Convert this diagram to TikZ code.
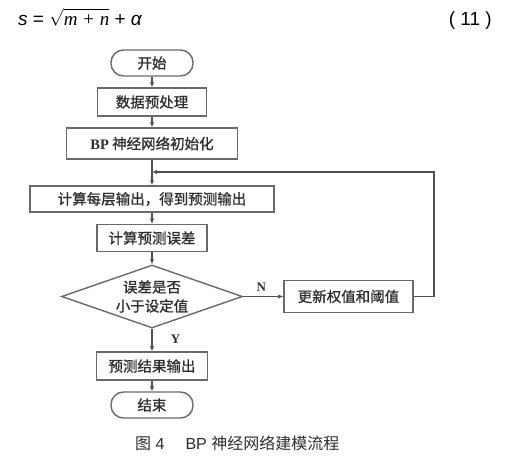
\documentclass[tikz,border=0pt]{standalone}
\usepackage{fontspec}
\setmainfont{Liberation Sans}
\newfontfamily\cjk{Noto Sans CJK SC}
\newfontfamily\cjkb{Noto Sans CJK SC}[FakeBold=0.9]
\newfontfamily\serifx{Liberation Serif}
\usetikzlibrary{shapes.geometric,arrows.meta}
\definecolor{linec}{HTML}{505050}
\definecolor{boxc}{HTML}{6A6A6A}
\definecolor{txtc}{HTML}{2E2E2E}
\begin{document}
\begin{tikzpicture}[x=1pt,y=-1pt,
  base/.style={draw=boxc, line width=1.4pt, inner sep=0pt, text=txtc,
    font=\cjkb\fontsize{14.5}{19}\selectfont, align=center},
  procbox/.style={base, rectangle},
  termbox/.style={base, rectangle, rounded corners=12.5pt},
  decbox/.style={base, diamond, aspect=2.87},
  arr/.style={draw=linec, line width=1.1pt, -{Latex[length=5pt,width=4.5pt]}},
  lbl/.style={text=txtc, font=\serifx\bfseries\fontsize{13}{13}\selectfont}
]
\useasboundingbox[fill=white] (0,0) rectangle (508,461);

% formula
\node[anchor=base west, inner sep=0pt, text=black, font=\fontsize{19}{19}\selectfont] (eq) at (18,25)
  {\itshape s\upshape{} = $\sqrt{\vphantom{\hbox{\serifx b}}\smash{\hbox{\serifx\itshape m + n}}}$ + \itshape α};
\node[anchor=base east, inner sep=0pt, text=black, font=\fontsize{19}{19}\selectfont] (eqn) at (492,25) {( 11 )};

% flow nodes
\node[termbox, minimum width=82pt, minimum height=26pt] (start) at (152,63) {开始};
\node[procbox, minimum width=109pt, minimum height=28pt] (pre) at (152,102) {数据预处理};
\node[procbox, minimum width=171pt, minimum height=31pt] (init) at (152,143.5) {{\serifx\bfseries BP} 神经网络初始化};
\node[procbox, minimum width=244pt, minimum height=26pt] (calc) at (152,199) {计算每层输出，得到预测输出};
\node[procbox, minimum width=110pt, minimum height=27pt] (err) at (152,238) {计算预测误差};
\node[decbox, minimum width=181pt, minimum height=63pt] (dec) at (152,296.5) {误差是否\\小于设定值};
\node[procbox, minimum width=129pt, minimum height=32pt] (upd) at (348.5,296.5) {更新权值和阈值};
\node[procbox, minimum width=111pt, minimum height=28pt] (out) at (152,366) {预测结果输出};
\node[termbox, minimum width=82pt, minimum height=26pt] (stop) at (152,405) {结束};

\coordinate (j) at (152,172);
\coordinate (cr) at (434,172);

% connectors
\draw[arr] (start) -- (pre);
\draw[arr] (pre) -- (init);
\draw[arr] (init) -- (calc);
\draw[arr] (calc) -- (err);
\draw[arr] (err) -- (dec);
\draw[arr] (dec) -- node[lbl, pos=0.45, right=15pt] (ylab) {Y} (out);
\draw[arr] (out) -- (stop);
\draw[arr] (dec.east) -- node[lbl, above=1pt, pos=0.45] (nlab) {N} (upd.west);
\draw[arr] (upd.east) -| (cr) -- (j);

% caption
\node[anchor=base west, inner sep=0pt, text=txtc, font=\fontsize{16}{16}\selectfont] (cap) at (135,449)
  {{\cjk 图} 4\hspace{21pt}BP {\cjk 神经网络建模流程}};
\end{tikzpicture}
\end{document}
